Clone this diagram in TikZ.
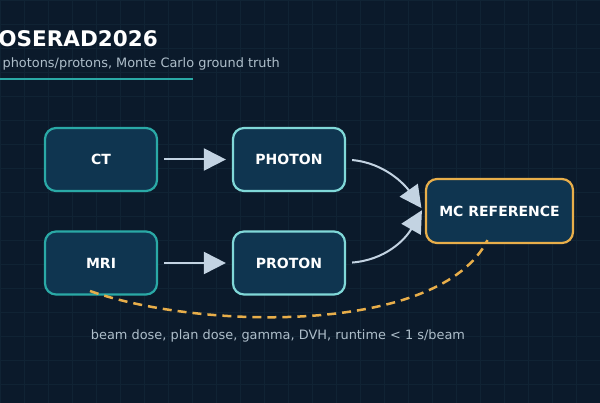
\documentclass[tikz,border=0pt]{standalone}
\usepackage{fontspec}
\setmainfont{DejaVu Sans}
\usetikzlibrary{arrows.meta}
\definecolor{bg}{HTML}{0B1A2B}
\definecolor{gridc}{HTML}{102334}
\definecolor{boxf}{HTML}{0F3550}
\definecolor{teal}{HTML}{2AA9A6}
\definecolor{lteal}{HTML}{80D8D8}
\definecolor{arr}{HTML}{C3D3E2}
\definecolor{orng}{HTML}{E8AE4A}
\definecolor{sub}{HTML}{AEBECA}
\begin{document}
\begin{tikzpicture}[x=1pt,y=-1pt,
  box/.style={draw, line width=2.2pt, fill=boxf, rounded corners=11pt, minimum width=112pt, minimum height=63pt, text=white, font=\bfseries\fontsize{14}{16}\selectfont},
  flow/.style={draw=arr, line width=2pt, shorten <=6pt, shorten >=6pt, -{Triangle[length=22pt,width=22pt]}}]
\useasboundingbox (0,0) rectangle (600,403);
\fill[bg] (0,0) rectangle (600,403);
\foreach \i in {0,24,...,600} \draw[gridc, line width=0.5pt] (\i,0) -- (\i,403);
\foreach \j in {0,24,...,403} \draw[gridc, line width=0.5pt] (0,\j) -- (600,\j);
\node[anchor=base east, text=white, font=\bfseries\fontsize{21.5}{25}\selectfont, inner sep=0] (title) at (158,47) {DOSERAD2026};
\node[anchor=base east, text=sub, font=\fontsize{12.9}{15}\selectfont, inner sep=0] (subt) at (280,68) {CT/MRI, photons/protons, Monte Carlo ground truth};
\draw[teal, line width=2.5pt] (0,79) -- (193,79);
\node[box, draw=teal] (ct) at (101,159.5) {CT};
\node[box, draw=lteal] (ph) at (289,159.5) {PHOTON};
\node[box, draw=teal] (mri) at (101,263) {MRI};
\node[box, draw=lteal] (pr) at (289,263) {PROTON};
\node[box, draw=orng, minimum width=147pt, minimum height=64pt] (mc) at (499.5,211) {MC REFERENCE};
\draw[flow] (ct) -- (ph);
\draw[flow] (mri) -- (pr);
\draw[flow] (ph.east) .. controls (385,163) and (405,185) .. ([yshift=-2pt]mc.west);
\draw[flow] (pr.east) .. controls (385,260) and (405,240) .. ([yshift=6pt]mc.west);
\coordinate (ds) at (90,291);
\draw[orng, line width=2.5pt, dash pattern=on 9pt off 6pt] (ds) .. controls (200,330) and (440,335) .. ([xshift=-12pt,yshift=4pt]mc.south);
\node[text=sub, font=\fontsize{12.9}{15}\selectfont] (lbl) at (278,336) {beam dose, plan dose, gamma, DVH, runtime < 1 s/beam};
\end{tikzpicture}
\end{document}
